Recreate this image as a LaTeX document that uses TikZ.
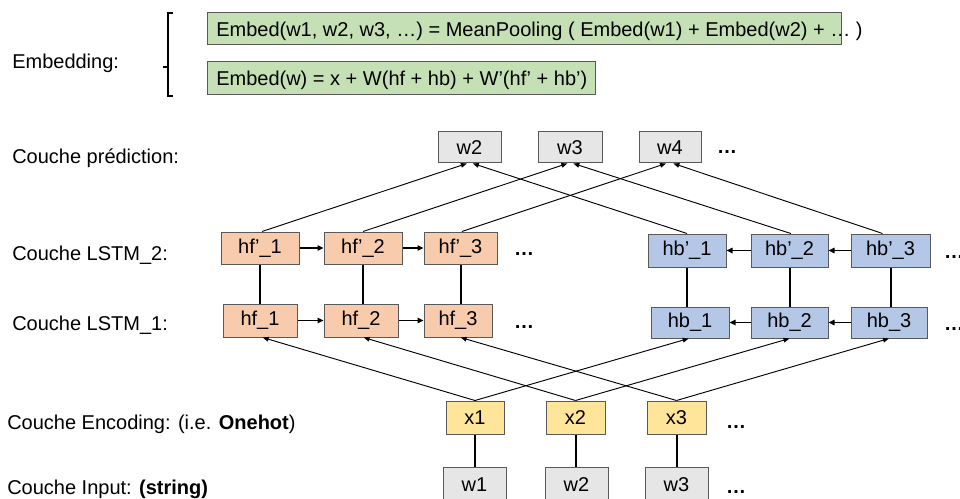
\documentclass[tikz,border=0pt]{standalone}
\usepackage{fontspec}
\setmainfont{Liberation Sans}
\usetikzlibrary{arrows.meta}
\definecolor{gfill}{HTML}{E6E6E6}
\definecolor{ofill}{HTML}{F8CBAD}
\definecolor{bfill}{HTML}{B4C7E7}
\definecolor{yfill}{HTML}{FFE599}
\definecolor{efill}{HTML}{C5E0B4}
\definecolor{bord}{HTML}{595959}
\newcommand\bx[7]{\node[#6, minimum width={(#4-#2)*0.75pt}, minimum height={(#5-#3)*0.75pt}] (#1) at ({(#2+#4)/2},{(#3+#5)/2}) {#7};}
\begin{document}
\begin{tikzpicture}[x=0.75pt,y=-0.75pt, font=\fontsize{15}{18}\selectfont,
  cbox/.style={draw=bord, line width=0.75pt, inner sep=0pt, rectangle},
  gbox/.style={cbox, fill=gfill},
  obox/.style={cbox, fill=ofill},
  bbox/.style={cbox, fill=bfill},
  ybox/.style={cbox, fill=yfill},
  ebox/.style={cbox, fill=efill},
  lbl/.style={anchor=base west, inner sep=0pt},
  dots/.style={inner sep=0pt, font=\fontsize{15}{18}\selectfont\bfseries},
  diag/.style={line width=0.7pt, -{Triangle[length=4.5pt,width=3.5pt]}},
  harr/.style={line width=1.1pt, -{Triangle[length=4.5pt,width=4pt]}},
  vline/.style={line width=1.5pt}
]
\useasboundingbox (0,0) rectangle (960,499);

% labels
\node[lbl] (lemb) at (12,69) {Embedding:};
\node[lbl] (lpred) at (12,164) {Couche prédiction:};
\node[lbl] (ll2) at (12,260) {Couche LSTM\_2:};
\node[lbl] (ll1) at (12,330) {Couche LSTM\_1:};
\node[lbl] (lenc) at (7,429) {Couche Encoding: (i.e. \textbf{Onehot})};
\node[lbl] (linp) at (7,494) {Couche Input: \textbf{(string)}};

% brace
\draw[line width=0.9pt] (173,13) -- (168,13) -- (168,96) -- (173,96);
\draw[line width=0.9pt] (168,67) -- (163,67);

% embedding boxes
\bx{emb1}{207}{13}{841}{45}{ebox}{}
\bx{emb2}{207}{62}{595}{95}{ebox}{}
\node[lbl] (temb1) at (216,37) {Embed(w1, w2, w3, …) = MeanPooling ( Embed(w1) + Embed(w2) + … )};
\node[lbl] (temb2) at (216,86) {Embed(w) = x + W(hf + hb) + W’(hf’ + hb’)};

% prediction
\bx{pw2}{438}{132}{501}{163}{gbox}{w2}
\bx{pw3}{538}{132}{602}{163}{gbox}{w3}
\bx{pw4}{639}{132}{701}{163}{gbox}{w4}
\node[dots] (pd) at (727,152) {…};

% LSTM 2
\bx{hfp1}{221}{232}{299}{264}{obox}{hf’\_1}
\bx{hfp2}{324}{232}{402}{264}{obox}{hf’\_2}
\bx{hfp3}{424}{232}{497}{264}{obox}{hf’\_3}
\node[dots] (hfpd) at (524,254) {…};
\bx{hbp1}{648}{234}{726}{267}{bbox}{hb’\_1}
\bx{hbp2}{751}{234}{828}{267}{bbox}{hb’\_2}
\bx{hbp3}{851}{234}{930}{267}{bbox}{hb’\_3}
\node[dots] (hbpd) at (954,257) {…};

% LSTM 1
\bx{hf1}{223}{304}{297}{337}{obox}{hf\_1}
\bx{hf2}{324}{304}{398}{337}{obox}{hf\_2}
\bx{hf3}{424}{304}{492}{337}{obox}{hf\_3}
\node[dots] (hfd) at (524,327) {…};
\bx{hb1}{651}{307}{729}{338}{bbox}{hb\_1}
\bx{hb2}{751}{307}{828}{338}{bbox}{hb\_2}
\bx{hb3}{851}{307}{927}{338}{bbox}{hb\_3}
\node[dots] (hbd) at (954,329) {…};

% encoding
\bx{x1}{446}{401}{504}{434}{ybox}{x1}
\bx{x2}{546}{401}{605}{434}{ybox}{x2}
\bx{x3}{647}{401}{706}{434}{ybox}{x3}
\node[dots] (xd) at (736,427) {…};

% input
\bx{w1}{443}{467}{506}{503}{gbox}{w1}
\bx{w2}{545}{467}{608}{503}{gbox}{w2}
\bx{w3}{645}{467}{708}{503}{gbox}{w3}
\node[dots] (wd) at (736,492) {…};

% vertical links
\foreach \a/\b in {hfp1/hf1,hfp2/hf2,hfp3/hf3,hbp1/hb1,hbp2/hb2,hbp3/hb3,x1/w1,x2/w2,x3/w3}
  \draw[vline] (\a.south) -- (\a.south |- \b.north);

% horizontal arrows
\draw[harr] (hfp1.east) -- (hfp2.west);
\draw[harr] (hfp2.east) -- (hfp3.west);
\draw[harr] (hf1.east) -- (hf2.west);
\draw[harr] (hf2.east) -- (hf3.west);
\draw[harr] (hbp2.west) -- (hbp1.east);
\draw[harr] (hbp3.west) -- (hbp2.east);
\draw[harr] (hb2.west) -- (hb1.east);
\draw[harr] (hb3.west) -- (hb2.east);

% to prediction
\draw[diag] ([xshift=1.5pt]hfp1.north) -- ([xshift=-2pt]pw2.south);
\draw[diag] (hfp2.north) -- ([xshift=-2pt]pw3.south);
\draw[diag] ([xshift=1pt]hfp3.north) -- ([xshift=-3pt]pw4.south);
\draw[diag] (hbp1.north) -- ([xshift=2.5pt]pw2.south);
\draw[diag] ([xshift=1pt]hbp2.north) -- ([xshift=2.5pt]pw3.south);
\draw[diag] ([xshift=-6pt]hbp3.north) -- ([xshift=2.5pt]pw4.south);

% from encoding
\draw[diag] (x1.north) -- ([xshift=2pt]hf1.south);
\draw[diag] (x1.north) -- ([xshift=-1pt]hb1.south);
\draw[diag] (x2.north) -- ([xshift=2pt]hf2.south);
\draw[diag] (x2.north) -- (hb2.south);
\draw[diag] (x3.north) -- ([xshift=2pt]hf3.south);
\draw[diag] (x3.north) -- (hb3.south);
\end{tikzpicture}
\end{document}
